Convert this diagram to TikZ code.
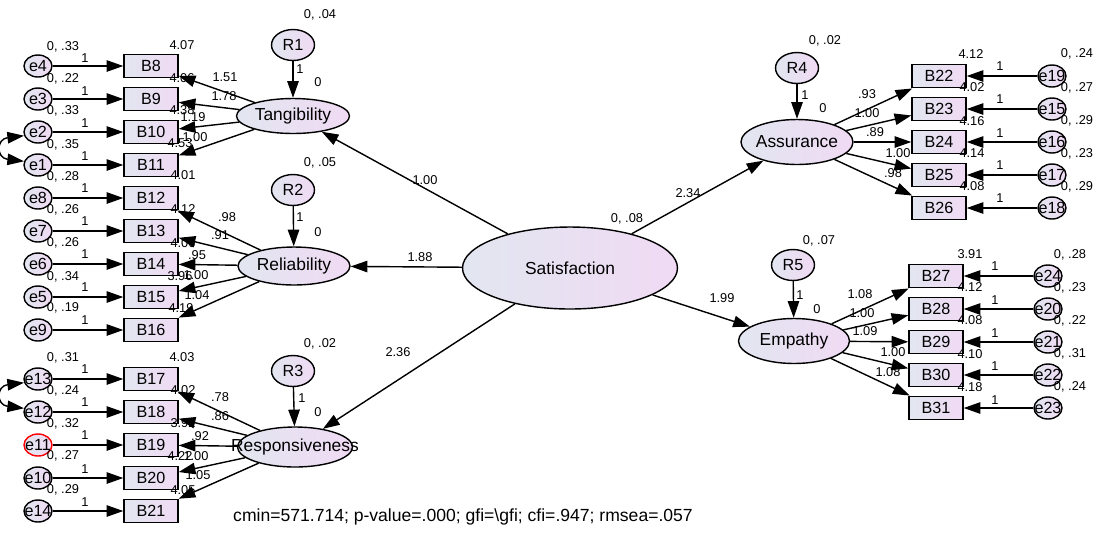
\documentclass[tikz,border=0pt]{standalone}
\usepackage{fontspec}
\setmainfont{Liberation Sans}
\usetikzlibrary{shapes.geometric,arrows.meta}
\definecolor{colA}{RGB}{226,230,240}
\definecolor{colB}{RGB}{240,218,244}
\begin{document}
\begin{tikzpicture}[x=0.02cm,y=-0.02cm,
 arr/.style={line width=0.8pt,-{Triangle[length=9.5pt,width=6.5pt]}},
 arrB/.style={line width=0.8pt,{Triangle[length=9.5pt,width=6.5pt]}-{Triangle[length=9.5pt,width=6.5pt]}},
 lat/.style={ellipse,draw,line width=0.8pt,left color=colA,right color=colB,inner sep=0pt,font=\fontsize{9.9}{11}\selectfont},
 obs/.style={rectangle,draw,line width=0.8pt,left color=colA,right color=colB,minimum width=1.08cm,minimum height=0.47cm,inner sep=0pt,font=\fontsize{9.2}{10}\selectfont},
 err/.style={ellipse,draw,line width=0.8pt,left color=colA,right color=colB,minimum width=0.56cm,minimum height=0.44cm,inner sep=0pt,font=\fontsize{9.2}{10}\selectfont},
 res/.style={ellipse,draw,line width=0.8pt,left color=colA,right color=colB,minimum width=0.86cm,minimum height=0.62cm,inner sep=0pt,font=\fontsize{9.2}{10}\selectfont},
 lab/.style={inner sep=0pt,font=\fontsize{7.3}{8}\selectfont},
]
\useasboundingbox[fill=white] (0,0) rectangle (1100,539);

% latent variables
\node[lat,minimum width=4.3cm,minimum height=1.64cm] (sat) at (570,268) {\makebox[0pt]{Satisfaction}};
\node[lat,minimum width=2.26cm,minimum height=0.7cm] (tang) at (293,116) {\makebox[0pt]{Tangibility}};
\node[lat,minimum width=2.24cm,minimum height=0.76cm] (rel) at (294,266) {\makebox[0pt]{Reliability}};
\node[lat,minimum width=2.3cm,minimum height=0.8cm] (resp) at (295,447) {\makebox[0pt]{Responsiveness}};
\node[lat,minimum width=2.24cm,minimum height=0.9cm] (assur) at (797,142) {\makebox[0pt]{Assurance}};
\node[lat,minimum width=2.22cm,minimum height=0.9cm] (emp) at (794,341) {\makebox[0pt]{Empathy}};

% residuals
\node[res] (R1) at (293,45) {R1};
\node[res] (R2) at (293,190) {R2};
\node[res] (R3) at (293,371) {R3};
\node[res] (R4) at (797,68) {R4};
\node[res] (R5) at (793,265) {R5};

% left observed
\node[obs] (b8) at (151,66) {B8};
\node[obs] (b9) at (151,99) {B9};
\node[obs] (b10) at (151,132) {B10};
\node[obs] (b11) at (151,165) {B11};
\node[obs] (b12) at (151,198) {B12};
\node[obs] (b13) at (151,231) {B13};
\node[obs] (b14) at (151,264) {B14};
\node[obs] (b15) at (151,297) {B15};
\node[obs] (b16) at (151,330) {B16};
\node[obs] (b17) at (151,379) {B17};
\node[obs] (b18) at (151,412) {B18};
\node[obs] (b19) at (151,445) {B19};
\node[obs] (b20) at (151,478) {B20};
\node[obs] (b21) at (151,511) {B21};

\node[err] (e4) at (38,66) {\makebox[0pt]{e4}};
\node[err] (e3) at (38,99) {\makebox[0pt]{e3}};
\node[err] (e2) at (38,132) {\makebox[0pt]{e2}};
\node[err] (e1) at (38,165) {\makebox[0pt]{e1}};
\node[err] (e8) at (38,198) {\makebox[0pt]{e8}};
\node[err] (e7) at (38,231) {\makebox[0pt]{e7}};
\node[err] (e6) at (38,264) {\makebox[0pt]{e6}};
\node[err] (e5) at (38,297) {\makebox[0pt]{e5}};
\node[err] (e9) at (38,330) {\makebox[0pt]{e9}};
\node[err] (e13) at (38,379) {\makebox[0pt]{e13}};
\node[err] (e12) at (38,412) {\makebox[0pt]{e12}};
\node[err,draw=red] (e11) at (38,445) {\makebox[0pt]{e11}};
\node[err] (e10) at (38,478) {\makebox[0pt]{e10}};
\node[err] (e14) at (38,511) {\makebox[0pt]{e14}};

% right observed
\node[obs] (b22) at (939,76) {B22};
\node[obs] (b23) at (939,109) {B23};
\node[obs] (b24) at (939,142) {B24};
\node[obs] (b25) at (939,175) {B25};
\node[obs] (b26) at (939,208) {B26};
\node[obs] (b27) at (936,276) {B27};
\node[obs] (b28) at (936,309) {B28};
\node[obs] (b29) at (936,342) {B29};
\node[obs] (b30) at (936,375) {B30};
\node[obs] (b31) at (936,408) {B31};

\node[err] (e19) at (1052,76) {\makebox[0pt]{e19}};
\node[err] (e15) at (1052,109) {\makebox[0pt]{e15}};
\node[err] (e16) at (1052,142) {\makebox[0pt]{e16}};
\node[err] (e17) at (1052,175) {\makebox[0pt]{e17}};
\node[err] (e18) at (1052,208) {\makebox[0pt]{e18}};
\node[err] (e24) at (1048,276) {\makebox[0pt]{e24}};
\node[err] (e20) at (1048,309) {\makebox[0pt]{e20}};
\node[err] (e21) at (1048,342) {\makebox[0pt]{e21}};
\node[err] (e22) at (1048,375) {\makebox[0pt]{e22}};
\node[err] (e23) at (1048,408) {\makebox[0pt]{e23}};

% structural paths
\draw[arr] (sat) -- (tang);
\draw[arr] (sat) -- (rel);
\draw[arr] (sat) -- (resp);
\draw[arr] (sat) -- (assur);
\draw[arr] (sat) -- (emp);
\draw[arr] (R1) -- (tang);
\draw[arr] (R2) -- (rel);
\draw[arr] (R3) -- (resp);
\draw[arr] (R4) -- (assur);
\draw[arr] (R5) -- (emp);

% loadings
\foreach \b in {b8,b9,b10,b11} \draw[arr] (tang) -- (\b);
\foreach \b in {b12,b13,b14,b15,b16} \draw[arr] (rel) -- (\b);
\foreach \b in {b17,b18,b19,b20,b21} \draw[arr] (resp) -- (\b);
\foreach \b in {b22,b23,b24,b25,b26} \draw[arr] (assur) -- (\b);
\foreach \b in {b27,b28,b29,b30,b31} \draw[arr] (emp) -- (\b);

% errors
\foreach \e/\b in {e4/b8,e3/b9,e2/b10,e1/b11,e8/b12,e7/b13,e6/b14,e5/b15,e9/b16,e13/b17,e12/b18,e11/b19,e10/b20,e14/b21,e19/b22,e15/b23,e16/b24,e17/b25,e18/b26,e24/b27,e20/b28,e21/b29,e22/b30,e23/b31}
  \draw[arr] (\e) -- (\b);

% covariances
\draw[arrB] (e2.195) .. controls (-4,139) and (-4,158) .. (e1.165);
\draw[arrB] (e13.195) .. controls (-4,386) and (-4,405) .. (e12.165);

% labels: top-left
\node[lab] (l1) at (63,47) {0, .33};
\node[lab] (l2) at (182,45) {4.07};
\node[lab] (l3) at (85,58) {1};
\node[lab] (l4) at (63,79) {0, .22};
\node[lab] (l5) at (182,78) {4.06};
\node[lab] (l6) at (85,91) {1};
\node[lab] (l7) at (225,77) {1.51};
\node[lab] (l8) at (224,96) {1.78};
\node[lab] (l9) at (63,111) {0, .33};
\node[lab] (l10) at (182,110) {4.38};
\node[lab] (l11) at (193,117) {1.19};
\node[lab] (l12) at (85,123) {1};
\node[lab] (l13) at (63,145) {0, .35};
\node[lab] (l14) at (180,143) {4.53};
\node[lab] (l15) at (195,137) {1.00};
\node[lab] (l16) at (85,156) {1};
\node[lab] (l17) at (320,15) {0, .04};
\node[lab] (l18) at (300,69) {1};
\node[lab] (l19) at (318,82) {0};
% reliability
\node[lab] (l20) at (63,177) {0, .28};
\node[lab] (l21) at (183,175) {4.01};
\node[lab] (l22) at (85,188) {1};
\node[lab] (l23) at (63,210) {0, .26};
\node[lab] (l24) at (183,209) {4.12};
\node[lab] (l25) at (227,217) {.98};
\node[lab] (l26) at (85,221) {1};
\node[lab] (l27) at (220,235) {.91};
\node[lab] (l28) at (183,243) {4.06};
\node[lab] (l29) at (63,243) {0, .26};
\node[lab] (l30) at (197,255) {.95};
\node[lab] (l31) at (85,254) {1};
\node[lab] (l32) at (180,276) {3.96};
\node[lab] (l33) at (196,275) {1.00};
\node[lab] (l34) at (63,277) {0, .34};
\node[lab] (l35) at (85,287) {1};
\node[lab] (l36) at (197,295) {1.04};
\node[lab] (l37) at (181,308) {4.19};
\node[lab] (l38) at (63,308) {0, .19};
\node[lab] (l39) at (85,320) {1};
\node[lab] (l40) at (320,163) {0, .05};
\node[lab] (l41) at (300,217) {1};
\node[lab] (l42) at (318,232) {0};
% responsiveness
\node[lab] (l43) at (63,358) {0, .31};
\node[lab] (l44) at (182,357) {4.03};
\node[lab] (l45) at (85,369) {1};
\node[lab] (l46) at (63,391) {0, .24};
\node[lab] (l47) at (183,390) {4.02};
\node[lab] (l48) at (220,397) {.78};
\node[lab] (l49) at (85,402) {1};
\node[lab] (l50) at (220,416) {.86};
\node[lab] (l51) at (183,423) {3.92};
\node[lab] (l52) at (63,424) {0, .32};
\node[lab] (l53) at (200,436) {.92};
\node[lab] (l54) at (85,435) {1};
\node[lab] (l55) at (180,456) {4.22};
\node[lab] (l56) at (196,456) {1.00};
\node[lab] (l57) at (63,456) {0, .27};
\node[lab] (l58) at (85,469) {1};
\node[lab] (l59) at (198,475) {1.05};
\node[lab] (l60) at (183,490) {4.05};
\node[lab] (l61) at (63,490) {0, .29};
\node[lab] (l62) at (85,502) {1};
\node[lab] (l63) at (320,344) {0, .02};
\node[lab] (l64) at (302,398) {1};
\node[lab] (l65) at (318,412) {0};
% centre
\node[lab] (l66) at (425,180) {1.00};
\node[lab] (l67) at (420,257) {1.88};
\node[lab] (l68) at (398,352) {2.36};
\node[lab] (l69) at (627,219) {0, .08};
\node[lab] (l70) at (688,193) {2.34};
\node[lab] (l71) at (722,298) {1.99};
% assurance
\node[lab] (l72) at (825,41) {0, .02};
\node[lab] (l73) at (805,95) {1};
\node[lab] (l74) at (823,108) {0};
\node[lab] (l75) at (971,54) {4.12};
\node[lab] (l76) at (1077,54) {0, .24};
\node[lab] (l77) at (972,87) {4.02};
\node[lab] (l78) at (1077,88) {0, .27};
\node[lab] (l79) at (972,121) {4.16};
\node[lab] (l80) at (1077,121) {0, .29};
\node[lab] (l81) at (972,153) {4.14};
\node[lab] (l82) at (1077,154) {0, .23};
\node[lab] (l83) at (972,186) {4.08};
\node[lab] (l84) at (1077,187) {0, .29};
\node[lab] (l85) at (1000,66) {1};
\node[lab] (l86) at (1000,99) {1};
\node[lab] (l87) at (1000,133) {1};
\node[lab] (l88) at (1000,165) {1};
\node[lab] (l89) at (1000,198) {1};
\node[lab] (l90) at (867,94) {.93};
\node[lab] (l91) at (867,113) {1.00};
\node[lab] (l92) at (875,132) {.89};
\node[lab] (l93) at (898,153) {1.00};
\node[lab] (l94) at (893,173) {.98};
% empathy
\node[lab] (l95) at (819,241) {0, .07};
\node[lab] (l96) at (800,295) {1};
\node[lab] (l97) at (817,309) {0};
\node[lab] (l98) at (970,254) {3.91};
\node[lab] (l99) at (1070,255) {0, .28};
\node[lab] (l100) at (970,287) {4.12};
\node[lab] (l101) at (1070,288) {0, .23};
\node[lab] (l102) at (970,320) {4.08};
\node[lab] (l103) at (1070,321) {0, .22};
\node[lab] (l104) at (970,354) {4.10};
\node[lab] (l105) at (1070,354) {0, .31};
\node[lab] (l106) at (970,387) {4.18};
\node[lab] (l107) at (1070,387) {0, .24};
\node[lab] (l108) at (995,266) {1};
\node[lab] (l109) at (995,300) {1};
\node[lab] (l110) at (995,333) {1};
\node[lab] (l111) at (995,366) {1};
\node[lab] (l112) at (995,400) {1};
\node[lab] (l113) at (860,294) {1.08};
\node[lab] (l114) at (862,313) {1.00};
\node[lab] (l115) at (865,331) {1.09};
\node[lab] (l116) at (893,352) {1.00};
\node[lab] (l117) at (888,372) {1.08};

% fit line
\node[inner sep=0pt,font=\fontsize{10}{12}\selectfont] (fit) at (463,517) {cmin=571.714; p-value=.000; gfi=\textbackslash gfi; cfi=.947; rmsea=.057};
\end{tikzpicture}
\end{document}
